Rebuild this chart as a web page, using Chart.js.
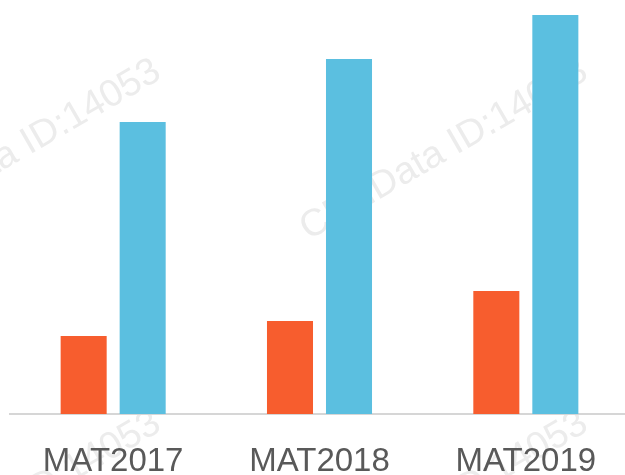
<!DOCTYPE html>
<html>
<head>
<meta charset="utf-8">
<script src="https://cdn.jsdelivr.net/npm/chart.js@4/dist/chart.umd.min.js"></script>
<style>
html, body { margin: 0; padding: 0; overflow: hidden; background: #ffffff; }
#wrap { width: 640px; height: 475px; }
</style>
</head>
<body>
<div id="wrap"><canvas id="c" width="640" height="475"></canvas></div>
<script>
const categories = ['MAT2017', 'MAT2018', 'MAT2019'];
const seriesOrange = [78, 93, 123];
const seriesBlue = [292, 355, 399];
const watermarkText = 'CBNData ID:14053';

const watermarkPlugin = {
  id: 'watermark',
  beforeDraw(chart) {
    const ctx = chart.ctx;
    const centers = [[17, 150], [444, 150], [17, 502], [444, 502]];
    ctx.save();
    ctx.fillStyle = '#ececec';
    ctx.font = '38px "Liberation Sans", Arial, sans-serif';
    ctx.textAlign = 'center';
    ctx.textBaseline = 'middle';
    centers.forEach(([x, y]) => {
      ctx.save();
      ctx.translate(x, y);
      ctx.rotate(-Math.PI / 6);
      ctx.fillText(watermarkText, 0, 0);
      ctx.restore();
    });
    ctx.restore();
  }
};

new Chart(document.getElementById('c'), {
  type: 'bar',
  data: {
    labels: categories,
    datasets: [
      { data: seriesOrange, backgroundColor: '#F75D2E', borderWidth: 0 },
      { data: seriesBlue, backgroundColor: '#5BBFE0', borderWidth: 0 }
    ]
  },
  options: {
    responsive: false,
    animation: false,
    devicePixelRatio: 1,
    layout: { padding: { left: 10, right: 11, top: 14, bottom: 0 } },
    plugins: { legend: { display: false }, tooltip: { enabled: false } },
    datasets: { bar: { categoryPercentage: 0.572, barPercentage: 0.78 } },
    scales: {
      x: {
        afterFit(scale) { scale.height = 61; },
        grid: { display: false, drawTicks: false },
        border: { display: true, color: '#d6d6d6', width: 2 },
        ticks: {
          color: '#595959',
          padding: 34,
          font: { family: '"Liberation Sans", Arial, sans-serif', size: 33, lineHeight: 0.83 }
        }
      },
      y: {
        display: false,
        min: 0,
        max: 400
      }
    }
  },
  plugins: [watermarkPlugin]
});
</script>
</body>
</html>
